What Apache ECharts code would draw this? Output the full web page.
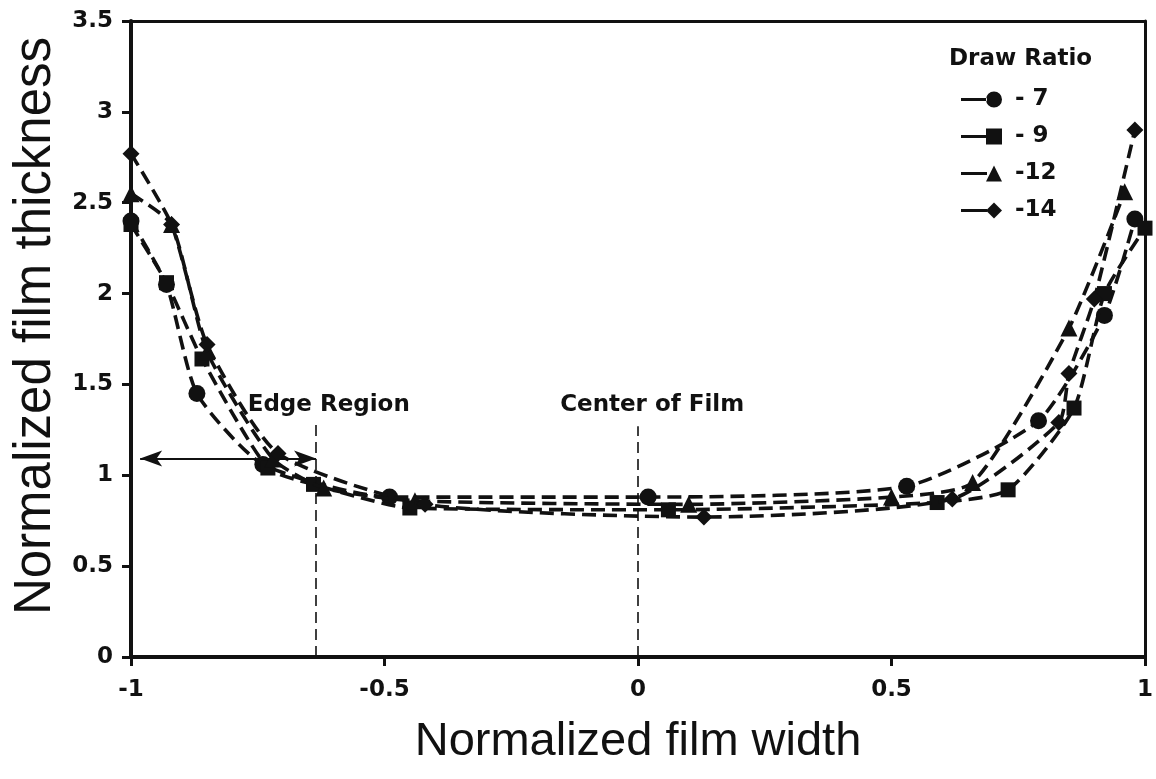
<!DOCTYPE html>
<html>
<head>
<meta charset="utf-8">
<script src="https://cdn.jsdelivr.net/npm/echarts@6/dist/echarts.min.js"></script>
<style>
html,body{margin:0;padding:0;background:#fff;}
#chart{width:1156px;height:779px;}
</style>
</head>
<body>
<div id="chart"></div>
<script>
// ---- data ----
const seriesNames = ['7', '9', '12', '14'];
const x7  = [-1, -0.93, -0.87, -0.74, -0.49, 0.02, 0.53, 0.79, 0.92, 0.98];
const y7  = [2.40, 2.05, 1.45, 1.06, 0.88, 0.88, 0.94, 1.30, 1.88, 2.41];
const x9  = [-1, -0.93, -0.86, -0.73, -0.64, -0.45, 0.06, 0.59, 0.73, 0.86, 0.92, 1.0];
const y9  = [2.38, 2.06, 1.64, 1.04, 0.95, 0.82, 0.81, 0.85, 0.92, 1.37, 2.00, 2.36];
const x12 = [-1, -0.92, -0.85, -0.72, -0.62, -0.44, 0.10, 0.50, 0.66, 0.85, 0.96];
const y12 = [2.55, 2.38, 1.68, 1.09, 0.93, 0.86, 0.84, 0.88, 0.96, 1.81, 2.56];
const x14 = [-1, -0.92, -0.85, -0.71, -0.42, 0.13, 0.62, 0.83, 0.85, 0.90, 0.98];
const y14 = [2.77, 2.38, 1.72, 1.12, 0.84, 0.77, 0.87, 1.29, 1.56, 1.97, 2.90];
const xTicks = [-1, -0.5, 0, 0.5, 1];
const yTicks = [0, 0.5, 1, 1.5, 2, 2.5, 3, 3.5];
// annotations (data coordinates)
const edgeLineX = -0.635, edgeLineTop = 1.30;
const centerLineX = 0, centerLineTop = 1.27;
const arrowY = 1.093, arrowFrom = -0.982, arrowTo = -0.635;
const annoLabels = [
  {text: 'Edge Region', x: -0.61, y: 1.385},
  {text: 'Center of Film', x: 0.028, y: 1.385}
];

const symbols = ['circle', 'rect', 'triangle', 'diamond'];
const legendIcons = [
  'path://M0 6.5L26 6.5L26 9.5L0 9.5Z M25 8A8 8 0 1 0 41 8A8 8 0 1 0 25 8Z',
  'path://M0 6.5L26 6.5L26 9.5L0 9.5Z M25 0L41 0L41 16L25 16Z',
  'path://M0 6.5L26 6.5L26 9.5L0 9.5Z M33 0L41 16L25 16Z',
  'path://M0 6.5L26 6.5L26 9.5L0 9.5Z M33 0L41 8L33 16L25 8Z'
];
const xs = [x7, x9, x12, x14];
const ys = [y7, y9, y12, y14];
const INK = '#111';

const chart = echarts.init(document.getElementById('chart'), null, {renderer: 'canvas'});

const series = seriesNames.map((n, i) => ({
  name: n,
  type: 'line',
  xAxisIndex: 0, yAxisIndex: 0,
  data: xs[i].map((x, k) => [x, ys[i][k]]),
  symbol: symbols[i],
  symbolSize: symbols[i] === 'rect' ? 15 : 17,
  showSymbol: true,
  smooth: 0.2,
  clip: false,
  itemStyle: {color: INK, borderWidth: 0},
  lineStyle: {color: INK, width: 3.6, type: [14, 7]},
  z: 3 + i,
  animation: false
}));

series[0].markLine = {
  silent: true,
  animation: false,
  symbol: 'none',
  label: {show: false},
  lineStyle: {color: INK, width: 1.6, type: [11, 6]},
  data: [
    [{coord: [edgeLineX, 0]}, {coord: [edgeLineX, edgeLineTop]}],
    [{coord: [centerLineX, 0]}, {coord: [centerLineX, centerLineTop]}],
    [{coord: [arrowFrom, arrowY], symbol: 'arrow', symbolSize: [12, 22], lineStyle: {type: 'solid', width: 2}},
     {coord: [arrowTo, arrowY], symbol: 'arrow', symbolSize: [12, 22], lineStyle: {type: 'solid', width: 2}}]
  ]
};
series[0].markPoint = {
  silent: true,
  animation: false,
  symbol: 'circle',
  symbolSize: 0,
  label: {
    show: true, position: 'inside', color: INK,
    fontFamily: 'DejaVu Sans', fontWeight: 'bold', fontSize: 23,
    formatter: p => p.name
  },
  data: annoLabels.map(a => ({name: a.text, coord: [a.x, a.y]}))
};

const tickFont = {fontFamily: 'DejaVu Sans', fontWeight: 'bold', fontSize: 23, color: INK};

const option = {
  backgroundColor: '#fff',
  animation: false,
  title: {
    text: 'Draw Ratio',
    left: 944, top: 43,
    textStyle: {fontFamily: 'DejaVu Sans', fontWeight: 'bold', fontSize: 23, color: INK}
  },
  legend: {
    orient: 'vertical',
    left: 956, top: 83,
    itemWidth: 41, itemHeight: 16, itemGap: 14,
    data: seriesNames.map((n, i) => ({name: n, icon: legendIcons[i]})),
    formatter: n => (n.length > 1 ? '-' : '- ') + n,
    textStyle: {fontFamily: 'DejaVu Sans', fontWeight: 'bold', fontSize: 23, color: INK, padding: [0, 0, 0, 8]}
  },
  grid: {left: 131, right: 6, top: 21, bottom: 122, containLabel: false},
  xAxis: [{
    type: 'value', min: -1, max: 1, interval: 0.5,
    name: 'Normalized film width', nameLocation: 'middle', nameGap: 62,
    nameTextStyle: {fontFamily: 'Liberation Sans', fontSize: 47, color: INK},
    axisLine: {show: true, onZero: false, lineStyle: {color: INK, width: 4}},
    axisTick: {show: true, length: 9, lineStyle: {color: INK, width: 3}},
    axisLabel: Object.assign({margin: 22, formatter: v => String(v)}, tickFont),
    splitLine: {show: false}
  }, {
    type: 'value', min: -1, max: 1, position: 'top',
    axisLine: {show: true, onZero: false, lineStyle: {color: INK, width: 3}},
    axisTick: {show: false}, axisLabel: {show: false}, splitLine: {show: false}
  }],
  yAxis: [{
    type: 'value', min: 0, max: 3.5, interval: 0.5,
    name: 'Normalized film thickness', nameLocation: 'middle', nameGap: 60,
    nameTextStyle: {fontFamily: 'Liberation Sans', fontSize: 51, color: INK, padding: [0, 0, 0, 26]},
    axisLine: {show: true, onZero: false, lineStyle: {color: INK, width: 4}},
    axisTick: {show: true, length: 9, lineStyle: {color: INK, width: 3}},
    axisLabel: Object.assign({margin: 18, formatter: v => String(v)}, tickFont),
    splitLine: {show: false}
  }, {
    type: 'value', min: 0, max: 3.5, position: 'right',
    axisLine: {show: true, onZero: false, lineStyle: {color: INK, width: 3}},
    axisTick: {show: false}, axisLabel: {show: false}, splitLine: {show: false}
  }],
  series: series
};
chart.setOption(option);
</script>
</body>
</html>
